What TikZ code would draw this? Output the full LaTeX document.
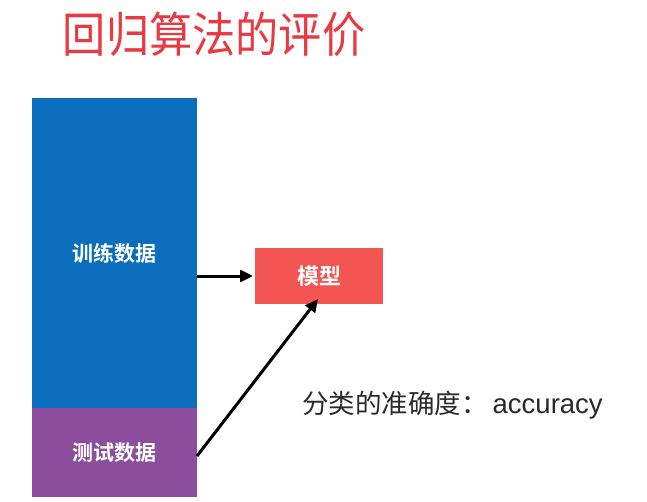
\documentclass[tikz,border=0pt]{standalone}
\usepackage{fontspec}
\setmainfont{Liberation Sans}
\newfontfamily\cjk{Noto Sans CJK SC}[BoldFont={Noto Sans CJK SC Bold}]
\usetikzlibrary{arrows.meta}
\definecolor{trainblue}{HTML}{0A6EBD}
\definecolor{testpurple}{HTML}{8C4E9C}
\definecolor{modelred}{HTML}{F25552}
\definecolor{titlered}{HTML}{E83A42}
\definecolor{txtgray}{HTML}{2A2A2A}
\begin{document}
\begin{tikzpicture}[x=1pt,y=-1pt,
  blk/.style={draw=none,inner sep=0pt,outer sep=0pt,text=white,font=\cjk\bfseries\fontsize{21}{24}\selectfont},
  arr/.style={-{Triangle[length=13pt,width=12pt]},line width=3pt,black}]
\useasboundingbox (0,0) rectangle (647,501);
\fill[white] (0,0) rectangle (647,501);
\node[text=titlered,inner sep=0pt,anchor=center] (title) at (214,34) {\scalebox{0.9}[1]{\cjk\fontsize{48}{56}\selectfont 回归算法的评价}};
\node[blk,fill=trainblue,minimum width=165pt,minimum height=310pt] (train) at (114.5,253) {训练数据};
\node[blk,fill=testpurple,minimum width=165pt,minimum height=89pt] (test) at (114.5,452.5) {测试数据};
\node[blk,fill=modelred,minimum width=128pt,minimum height=56pt,font=\cjk\bfseries\fontsize{22}{24}\selectfont] (model) at (319,276) {模型};
\coordinate (m2) at (318,299);
\draw[arr] (train.east |- model.west) -- ([xshift=-2pt]model.west);
\draw[arr] (test.east |- 0,456) -- (m2);
\node[anchor=west,text=txtgray,inner sep=0pt] (acc) at (302,405) {\cjk\fontsize{26.5}{28}\selectfont 分类的准确度：\hspace{5pt}\fontsize{27.5}{28}\selectfont\rmfamily accuracy};
\end{tikzpicture}
\end{document}
